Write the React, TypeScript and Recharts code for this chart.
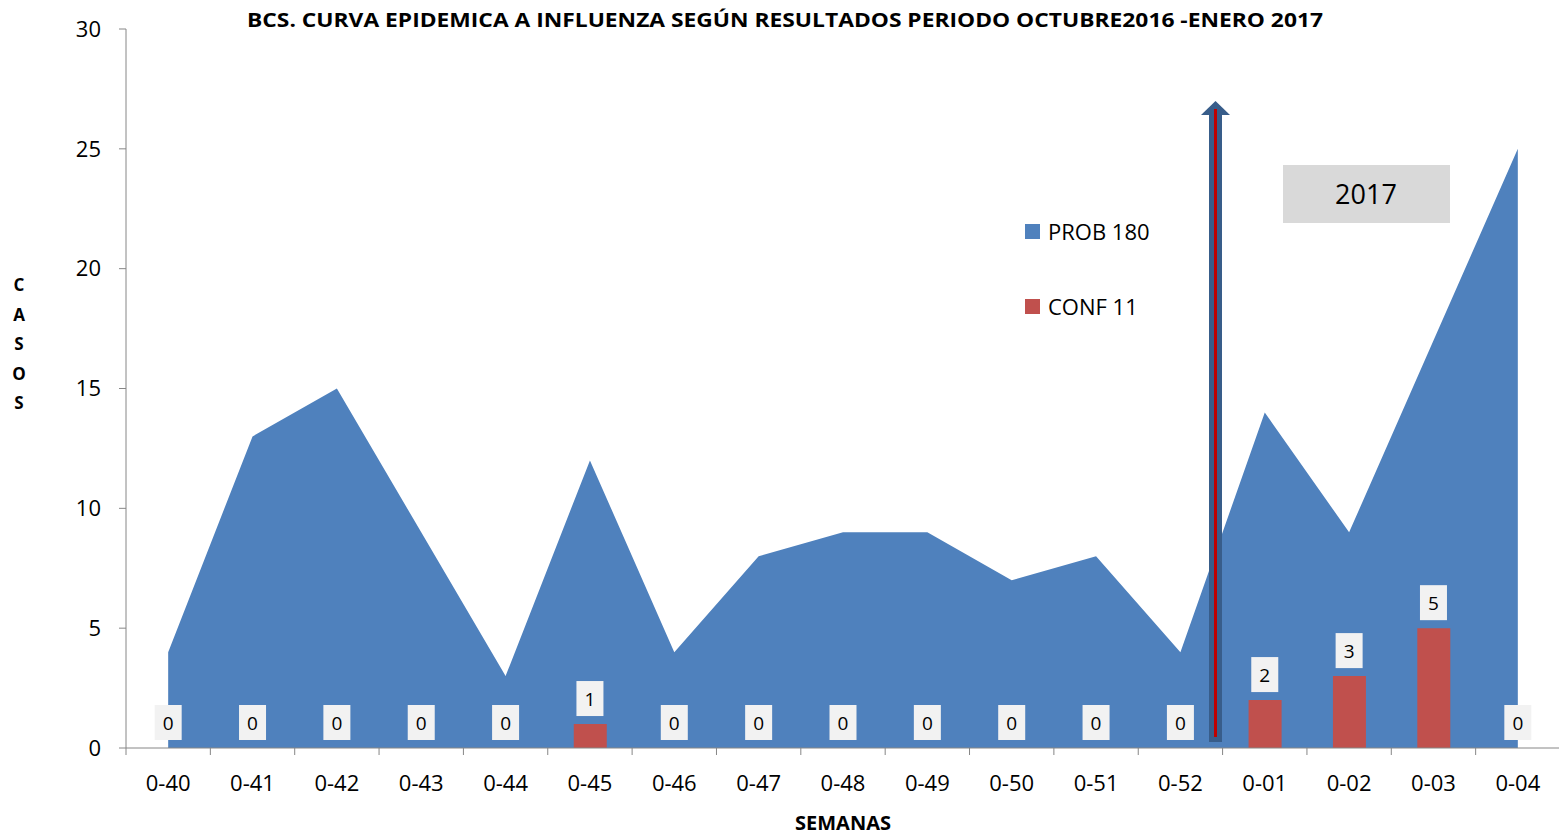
import React from "react";
import {
  ComposedChart,
  Area,
  Bar,
  Line,
  XAxis,
  YAxis,
} from "recharts";

const weeks = [
  "0-40", "0-41", "0-42", "0-43", "0-44", "0-45", "0-46", "0-47", "0-48",
  "0-49", "0-50", "0-51", "0-52", "0-01", "0-02", "0-03", "0-04",
];
const prob = [4, 13, 15, 9, 3, 12, 4, 8, 9, 9, 7, 8, 4, 14, 9, 17, 25];
const conf = [0, 0, 0, 0, 0, 1, 0, 0, 0, 0, 0, 0, 0, 2, 3, 5, 0];
const yTicks = [0, 5, 10, 15, 20, 25, 30];

const data = weeks.map((w, i) => ({ week: w, prob: prob[i], conf: conf[i] }));

const W = 1559;
const H = 837;
const CHART_W = 1561;
const PLOT_LEFT = 126;
const PLOT_RIGHT = 1560;
const BAND = (PLOT_RIGHT - PLOT_LEFT) / weeks.length;
const FONT = "'Open Sans', sans-serif";
const AXIS = "#868686";

const XTick = (props: any) => {
  const { x, y, payload, index } = props;
  const left = x - BAND / 2;
  return (
    <g>
      <line x1={left} y1={y - 8} x2={left} y2={y - 1} stroke={AXIS} />
      {index === weeks.length - 1 && (
        <line x1={left + BAND} y1={y - 8} x2={left + BAND} y2={y - 1} stroke={AXIS} />
      )}
      <text x={x} y={y + 35} textAnchor="middle" fontSize={22} fill="#000" fontFamily={FONT}>
        {payload.value}
      </text>
    </g>
  );
};

const PointLabel = (props: any) => {
  const { x, y, value } = props;
  const bottom = y - 8;
  return (
    <g>
      <rect x={x - 13.5} y={bottom - 35} width={27} height={35} fill="#f2f2f2" />
      <text x={x} y={bottom - 10.5} textAnchor="middle" fontSize={19} fill="#000" fontFamily={FONT}>
        {value}
      </text>
    </g>
  );
};

const LegendBox = () => (
  <div
    style={{
      position: "absolute",
      left: 1025,
      top: 216,
      fontFamily: FONT,
      fontSize: 22,
      color: "#000",
    }}
  >
    {[
      { name: "PROB 180", color: "#4f81bd" },
      { name: "CONF 11", color: "#c0504d" },
    ].map((it, i) => (
      <div key={it.name} style={{ display: "flex", alignItems: "center", height: 30, marginTop: i ? 45 : 0 }}>
        <span style={{ width: 15, height: 15, background: it.color, display: "inline-block", marginRight: 8 }} />
        {it.name}
      </div>
    ))}
  </div>
);

export default function App() {
  return (
    <div
      style={{
        position: "absolute",
        left: 0,
        top: 0,
        width: W,
        height: H,
        overflow: "hidden",
        background: "#fff",
      }}
    >
      <ComposedChart
        width={CHART_W}
        height={H}
        data={data}
        margin={{ top: 29, right: CHART_W - PLOT_RIGHT, left: 0, bottom: 0 }}
        barCategoryGap={0}
      >
        <XAxis
          dataKey="week"
          height={89}
          axisLine={{ stroke: AXIS }}
          tickLine={false}
          tick={<XTick />}
          interval={0}
        />
        <YAxis
          width={PLOT_LEFT}
          domain={[0, 30]}
          ticks={yTicks}
          axisLine={{ stroke: AXIS }}
          tickLine={{ stroke: AXIS }}
          tickSize={7}
          tickMargin={18}
          tick={{ fontSize: 22, fill: "#000", fontFamily: FONT }}
        />
        <Area
          type="linear"
          dataKey="prob"
          name="PROB 180"
          fill="#4f81bd"
          fillOpacity={1}
          stroke="none"
          isAnimationActive={false}
        />
        <Bar
          dataKey="conf"
          name="CONF 11"
          fill="#c0504d"
          barSize={33}
          isAnimationActive={false}
        />
        <Line
          dataKey="conf"
          stroke="none"
          dot={false}
          activeDot={false}
          legendType="none"
          label={<PointLabel />}
          isAnimationActive={false}
        />
      </ComposedChart>
      <LegendBox />
      <svg
        width={W}
        height={H}
        style={{ position: "absolute", left: 0, top: 0, pointerEvents: "none" }}
      >
        <text
          x={785}
          y={27}
          textAnchor="middle"
          fontSize={19}
          fontWeight="bold"
          fontFamily={FONT}
          textLength={1076}
          lengthAdjust="spacingAndGlyphs"
        >
          BCS. CURVA EPIDEMICA A INFLUENZA SEGÚN RESULTADOS PERIODO OCTUBRE2016 -ENERO 2017
        </text>
        {"CASOS".split("").map((c, i) => (
          <text key={i} x={19} y={291 + i * 29.5} textAnchor="middle" fontSize={17} fontWeight="bold" fontFamily={FONT}>
            {c}
          </text>
        ))}
        <text x={843} y={830} textAnchor="middle" fontSize={20} fontWeight="bold" fontFamily={FONT}>
          SEMANAS
        </text>
        <rect x={1209} y={114} width={13} height={628} fill="#385d8a" />
        <polygon points="1215.5,101 1230,115 1201,115" fill="#385d8a" />
        <rect x={1214} y={109} width={3} height={628} fill="#c00000" />
        <rect x={1283} y={165} width={167} height={58} fill="#d9d9d9" />
        <text x={1366} y={204} textAnchor="middle" fontSize={27} fontFamily={FONT}>
          2017
        </text>
      </svg>
    </div>
  );
}
